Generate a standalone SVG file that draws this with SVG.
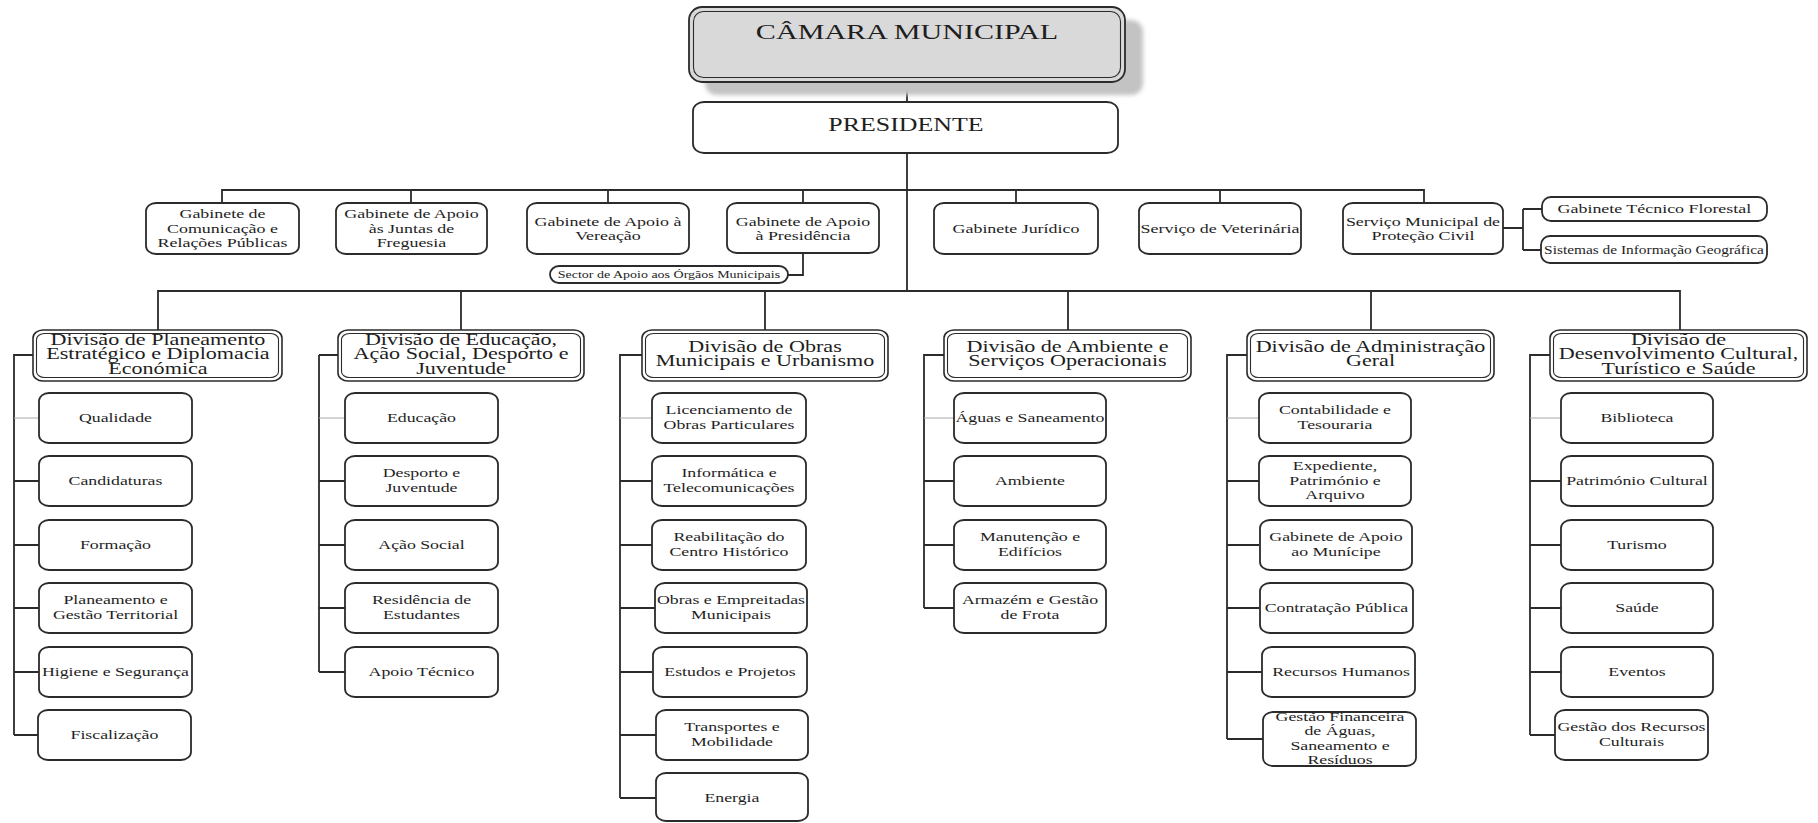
<svg xmlns="http://www.w3.org/2000/svg" width="1818" height="823" viewBox="0 0 1818 823">
<style>
  text{font-family:"Liberation Serif","Times New Roman",serif;fill:#1e1e1e;text-anchor:middle;transform-box:fill-box;transform-origin:50% 50%;transform:scaleX(1.4)}
  .cm{font-size:21.5px}
  .pr{font-size:18.5px}
  .g{font-size:12.8px}
  .d{font-size:15.8px}
  .c{font-size:12.7px}
  .s{font-size:10px}
  .box{fill:#fff;stroke:#2b2b2b;stroke-width:1.8}
  .dbl{fill:#fff;stroke:#2b2b2b;stroke-width:1.6}
  .in{fill:none;stroke:#2b2b2b;stroke-width:1.1}
  .ln{fill:none;stroke:#2b2b2b;stroke-width:1.8}
  .lt{fill:none;stroke:#a8a8a8;stroke-width:1}
</style>
<defs>
  <filter id="soft" x="-5%" y="-10%" width="110%" height="120%">
    <feGaussianBlur stdDeviation="2"/>
  </filter>
</defs>
<rect width="1818" height="823" fill="#fff"/>

<!-- connectors -->
<g id="connectors">
  <path class="ln" d="M907 82V102M907 153V291"/>
  <!-- staff offices -->
  <path class="ln" d="M222 203V190H1424V203M411 190V203M608 190V203M803 190V203M1016 190V203M1220 190V203"/>
  <path class="ln" d="M803 253V275H788"/>
  <path class="ln" d="M1503 228H1523M1523 209V250M1523 209H1542M1523 250H1541"/>
  <!-- divisions -->
  <path class="ln" d="M158 330V291H1680V330M461 291V330M765 291V330M1068 291V330M1371 291V330"/>
  <path class="ln" d="M33 355H14V735M319 355H338M319 355V672M642 355H620V798M944 355H924V608M1247 355H1227V739M1550 355H1530V735"/>
  <!-- first unit rows -->
  <path class="lt" d="M14 418H39M319 418H345M620 418H652M924 418H954M1227 418H1259M1530 418H1561"/>
  <!-- remaining unit rows -->
  <path class="ln" d="M14 481H39M14 545H39M14 608H39M14 672H39M14 735H38"/>
  <path class="ln" d="M319 481H345M319 545H345M319 608H345M319 672H345"/>
  <path class="ln" d="M620 481H652M620 545H652M620 608H655M620 672H652M620 735H656M620 798H656"/>
  <path class="ln" d="M924 481H954M924 545H954M924 608H954"/>
  <path class="ln" d="M1227 481H1259M1227 545H1259M1227 608H1259M1227 672H1262M1227 739H1263"/>
  <path class="ln" d="M1530 481H1561M1530 545H1561M1530 608H1561M1530 672H1561M1530 735H1555"/>
</g>

<!-- top of the hierarchy -->
<g id="camara">
  <rect x="705" y="20" width="438" height="75" rx="12" fill="#c3c3c3" filter="url(#soft)"/>
  <rect x="689" y="7" width="436" height="75" rx="13" fill="#d9d9d9" stroke="#2b2b2b" stroke-width="1.8"/>
  <rect x="693.5" y="11.5" width="427" height="66" rx="10" class="in"/>
  <text class="cm" x="907" y="39.5">CÂMARA MUNICIPAL</text>
</g>
<g id="presidente">
  <rect class="box" x="693" y="102" width="425" height="51" rx="11" ry="9"/>
  <text class="pr" x="906" y="131">PRESIDENTE</text>
</g>

<!-- offices attached to the presidency -->
<g id="gab-comunicacao">
  <rect class="box" x="146" y="203" width="153" height="51" rx="10" ry="8"/>
  <text class="g" x="222.5"><tspan x="222.5" y="218.5">Gabinete de</tspan><tspan x="222.5" y="233">Comunicação e</tspan><tspan x="222.5" y="247.5">Relações Públicas</tspan></text>
</g>
<g id="gab-juntas">
  <rect class="box" x="336" y="203" width="151" height="51" rx="10" ry="8"/>
  <text class="g" x="411.5"><tspan x="411.5" y="218.5">Gabinete de Apoio</tspan><tspan x="411.5" y="233">às Juntas de</tspan><tspan x="411.5" y="247.5">Freguesia</tspan></text>
</g>
<g id="gab-vereacao">
  <rect class="box" x="527" y="203" width="162" height="51" rx="10" ry="8"/>
  <text class="g" x="608"><tspan x="608" y="226">Gabinete de Apoio à</tspan><tspan x="608" y="240.5">Vereação</tspan></text>
</g>
<g id="gab-presidencia">
  <rect class="box" x="727" y="203" width="152" height="50" rx="10" ry="8"/>
  <text class="g" x="803"><tspan x="803" y="226">Gabinete de Apoio</tspan><tspan x="803" y="240">à Presidência</tspan></text>
</g>
<g id="sector-orgaos">
  <rect class="box" x="550" y="266" width="238" height="17" rx="9" stroke-width="1.4"/>
  <text class="s" x="669" y="278.3">Sector de Apoio aos Órgãos Municipais</text>
</g>
<g id="gab-juridico">
  <rect class="box" x="934" y="203" width="164" height="51" rx="10" ry="8"/>
  <text class="g" x="1016" y="233">Gabinete Jurídico</text>
</g>
<g id="serv-veterinaria">
  <rect class="box" x="1139" y="203" width="162" height="51" rx="10" ry="8"/>
  <text class="g" x="1220" y="233">Serviço de Veterinária</text>
</g>
<g id="serv-protecao-civil">
  <rect class="box" x="1343" y="203" width="160" height="51" rx="10" ry="8"/>
  <text class="g" x="1423"><tspan x="1423" y="226">Serviço Municipal de</tspan><tspan x="1423" y="240.5">Proteção Civil</tspan></text>
</g>
<g id="gab-florestal">
  <rect class="box" x="1542" y="197" width="225" height="24" rx="9"/>
  <text class="g" x="1654.5" y="213.5">Gabinete Técnico Florestal</text>
</g>
<g id="sig">
  <rect class="box" x="1541" y="236" width="226" height="27" rx="9"/>
  <text class="g" x="1654" y="254" textLength="157" lengthAdjust="spacingAndGlyphs">Sistemas de Informação Geográfica</text>
</g>

<!-- divisions -->
<g id="div-planeamento">
  <rect class="dbl" x="33" y="330" width="249" height="51" rx="10" ry="8"/>
  <rect class="in" x="36.5" y="333.5" width="242" height="44" rx="8" ry="6"/>
  <text class="d" x="158"><tspan x="158" y="345">Divisão de Planeamento</tspan><tspan x="158" y="359.3">Estratégico e Diplomacia</tspan><tspan x="158" y="373.6">Económica</tspan></text>
</g>
<g id="div-educacao">
  <rect class="dbl" x="338" y="330" width="246" height="51" rx="10" ry="8"/>
  <rect class="in" x="341.5" y="333.5" width="239" height="44" rx="8" ry="6"/>
  <text class="d" x="461"><tspan x="461" y="345">Divisão de Educação,</tspan><tspan x="461" y="359.3">Ação Social, Desporto e</tspan><tspan x="461" y="373.6">Juventude</tspan></text>
</g>
<g id="div-obras">
  <rect class="dbl" x="642" y="330" width="246" height="51" rx="10" ry="8"/>
  <rect class="in" x="645.5" y="333.5" width="239" height="44" rx="8" ry="6"/>
  <text class="d" x="765"><tspan x="765" y="352">Divisão de Obras</tspan><tspan x="765" y="366.5">Municipais e Urbanismo</tspan></text>
</g>
<g id="div-ambiente">
  <rect class="dbl" x="944" y="330" width="247" height="51" rx="10" ry="8"/>
  <rect class="in" x="947.5" y="333.5" width="240" height="44" rx="8" ry="6"/>
  <text class="d" x="1067.5"><tspan x="1067.5" y="352">Divisão de Ambiente e</tspan><tspan x="1067.5" y="366.5">Serviços Operacionais</tspan></text>
</g>
<g id="div-administracao">
  <rect class="dbl" x="1247" y="330" width="247" height="51" rx="10" ry="8"/>
  <rect class="in" x="1250.5" y="333.5" width="240" height="44" rx="8" ry="6"/>
  <text class="d" x="1370.5"><tspan x="1370.5" y="352">Divisão de Administração</tspan><tspan x="1370.5" y="366.5">Geral</tspan></text>
</g>
<g id="div-cultura">
  <rect class="dbl" x="1550" y="330" width="257" height="51" rx="10" ry="8"/>
  <rect class="in" x="1553.5" y="333.5" width="250" height="44" rx="8" ry="6"/>
  <text class="d" x="1678.5"><tspan x="1678.5" y="345">Divisão de</tspan><tspan x="1678.5" y="359.3">Desenvolvimento Cultural,</tspan><tspan x="1678.5" y="373.6">Turístico e Saúde</tspan></text>
</g>

<!-- units: Planeamento Estratégico -->
<g id="u-qualidade"><rect class="box" x="39" y="393" width="153" height="50" rx="10" ry="8"/><text class="c" x="115.5" y="422">Qualidade</text></g>
<g id="u-candidaturas"><rect class="box" x="39" y="456" width="153" height="50" rx="10" ry="8"/><text class="c" x="115.5" y="485.5">Candidaturas</text></g>
<g id="u-formacao"><rect class="box" x="39" y="520" width="153" height="50" rx="10" ry="8"/><text class="c" x="115.5" y="549">Formação</text></g>
<g id="u-planeamento"><rect class="box" x="39" y="583" width="153" height="50" rx="10" ry="8"/><text class="c" x="115.5"><tspan x="115.5" y="604.5">Planeamento e</tspan><tspan x="115.5" y="619.2">Gestão Territorial</tspan></text></g>
<g id="u-higiene"><rect class="box" x="39" y="647" width="153" height="50" rx="10" ry="8"/><text class="c" x="115.5" y="676">Higiene e Segurança</text></g>
<g id="u-fiscalizacao"><rect class="box" x="38" y="710" width="153" height="50" rx="10" ry="8"/><text class="c" x="114.5" y="739.5">Fiscalização</text></g>

<!-- units: Educação -->
<g id="u-educacao"><rect class="box" x="345" y="393" width="153" height="50" rx="10" ry="8"/><text class="c" x="421.5" y="422">Educação</text></g>
<g id="u-desporto"><rect class="box" x="345" y="456" width="153" height="50" rx="10" ry="8"/><text class="c" x="421.5"><tspan x="421.5" y="477.5">Desporto e</tspan><tspan x="421.5" y="492.2">Juventude</tspan></text></g>
<g id="u-acao-social"><rect class="box" x="345" y="520" width="153" height="50" rx="10" ry="8"/><text class="c" x="421.5" y="549">Ação Social</text></g>
<g id="u-residencia"><rect class="box" x="345" y="583" width="153" height="50" rx="10" ry="8"/><text class="c" x="421.5"><tspan x="421.5" y="604.5">Residência de</tspan><tspan x="421.5" y="619.2">Estudantes</tspan></text></g>
<g id="u-apoio-tecnico"><rect class="box" x="345" y="647" width="153" height="50" rx="10" ry="8"/><text class="c" x="421.5" y="676">Apoio Técnico</text></g>

<!-- units: Obras Municipais -->
<g id="u-licenciamento"><rect class="box" x="652" y="393" width="154" height="50" rx="10" ry="8"/><text class="c" x="729"><tspan x="729" y="414.5">Licenciamento de</tspan><tspan x="729" y="429.2">Obras Particulares</tspan></text></g>
<g id="u-informatica"><rect class="box" x="652" y="456" width="154" height="50" rx="10" ry="8"/><text class="c" x="729"><tspan x="729" y="477.5">Informática e</tspan><tspan x="729" y="492.2">Telecomunicações</tspan></text></g>
<g id="u-reabilitacao"><rect class="box" x="652" y="520" width="154" height="50" rx="10" ry="8"/><text class="c" x="729"><tspan x="729" y="541.5">Reabilitação do</tspan><tspan x="729" y="556.2">Centro Histórico</tspan></text></g>
<g id="u-empreitadas"><rect class="box" x="655" y="583" width="152" height="50" rx="10" ry="8"/><text class="c" x="731"><tspan x="731" y="604.5">Obras e Empreitadas</tspan><tspan x="731" y="619.2">Municipais</tspan></text></g>
<g id="u-estudos"><rect class="box" x="653" y="647" width="154" height="50" rx="10" ry="8"/><text class="c" x="730" y="676">Estudos e Projetos</text></g>
<g id="u-transportes"><rect class="box" x="656" y="710" width="152" height="50" rx="10" ry="8"/><text class="c" x="732"><tspan x="732" y="731.5">Transportes e</tspan><tspan x="732" y="746.2">Mobilidade</tspan></text></g>
<g id="u-energia"><rect class="box" x="656" y="773" width="152" height="48" rx="10" ry="8"/><text class="c" x="732" y="802">Energia</text></g>

<!-- units: Ambiente -->
<g id="u-aguas"><rect class="box" x="954" y="393" width="152" height="50" rx="10" ry="8"/><text class="c" x="1030" y="422">Águas e Saneamento</text></g>
<g id="u-ambiente"><rect class="box" x="954" y="456" width="152" height="50" rx="10" ry="8"/><text class="c" x="1030" y="485.5">Ambiente</text></g>
<g id="u-manutencao"><rect class="box" x="954" y="520" width="152" height="50" rx="10" ry="8"/><text class="c" x="1030"><tspan x="1030" y="541.5">Manutenção e</tspan><tspan x="1030" y="556.2">Edifícios</tspan></text></g>
<g id="u-armazem"><rect class="box" x="954" y="583" width="152" height="50" rx="10" ry="8"/><text class="c" x="1030"><tspan x="1030" y="604.5">Armazém e Gestão</tspan><tspan x="1030" y="619.2">de Frota</tspan></text></g>

<!-- units: Administração Geral -->
<g id="u-contabilidade"><rect class="box" x="1259" y="393" width="152" height="50" rx="10" ry="8"/><text class="c" x="1335"><tspan x="1335" y="414.5">Contabilidade e</tspan><tspan x="1335" y="429.2">Tesouraria</tspan></text></g>
<g id="u-expediente"><rect class="box" x="1259" y="456" width="152" height="50" rx="10" ry="8"/><text class="c" x="1335"><tspan x="1335" y="470.5">Expediente,</tspan><tspan x="1335" y="485">Património e</tspan><tspan x="1335" y="499.5">Arquivo</tspan></text></g>
<g id="u-municipe"><rect class="box" x="1260" y="520" width="152" height="50" rx="10" ry="8"/><text class="c" x="1336"><tspan x="1336" y="541.5">Gabinete de Apoio</tspan><tspan x="1336" y="556.2">ao Munícipe</tspan></text></g>
<g id="u-contratacao"><rect class="box" x="1260" y="583" width="153" height="50" rx="10" ry="8"/><text class="c" x="1336.5" y="612">Contratação Pública</text></g>
<g id="u-recursos-humanos"><rect class="box" x="1262" y="647" width="153" height="50" rx="10" ry="8"/><text class="c" x="1341" y="676">Recursos Humanos</text></g>
<g id="u-gestao-financeira"><rect class="box" x="1263" y="712" width="153" height="54" rx="10" ry="8"/><text class="c" x="1340"><tspan x="1340" y="721">Gestão Financeira</tspan><tspan x="1340" y="735.3">de Águas,</tspan><tspan x="1340" y="749.6">Saneamento e</tspan><tspan x="1340" y="763.9">Resíduos</tspan></text></g>

<!-- units: Desenvolvimento Cultural -->
<g id="u-biblioteca"><rect class="box" x="1561" y="393" width="152" height="50" rx="10" ry="8"/><text class="c" x="1637" y="422">Biblioteca</text></g>
<g id="u-patrimonio"><rect class="box" x="1561" y="456" width="152" height="50" rx="10" ry="8"/><text class="c" x="1637" y="485.5">Património Cultural</text></g>
<g id="u-turismo"><rect class="box" x="1561" y="520" width="152" height="50" rx="10" ry="8"/><text class="c" x="1637" y="549">Turismo</text></g>
<g id="u-saude"><rect class="box" x="1561" y="583" width="152" height="50" rx="10" ry="8"/><text class="c" x="1637" y="612">Saúde</text></g>
<g id="u-eventos"><rect class="box" x="1561" y="647" width="152" height="50" rx="10" ry="8"/><text class="c" x="1637" y="676">Eventos</text></g>
<g id="u-recursos-culturais"><rect class="box" x="1555" y="710" width="153" height="50" rx="10" ry="8"/><text class="c" x="1631.5"><tspan x="1631.5" y="731.5">Gestão dos Recursos</tspan><tspan x="1631.5" y="746.2">Culturais</tspan></text></g>
</svg>
